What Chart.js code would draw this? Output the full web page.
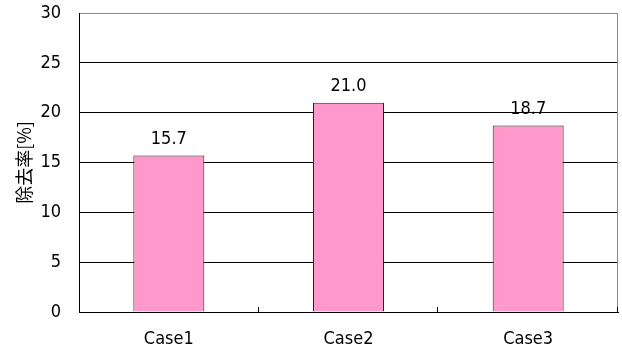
<!DOCTYPE html>
<html>
<head>
<meta charset="utf-8">
<script src="https://cdn.jsdelivr.net/npm/chart.js@4/dist/chart.umd.min.js"></script>
<style>
html,body{margin:0;padding:0;background:#fff;}
canvas{display:block;}
</style>
</head>
<body>
<canvas id="c" width="622" height="353"></canvas>
<script>
const categories = ["Case1", "Case2", "Case3"];
const removalRates = [15.7, 21.0, 18.7];
const valueLabels = ["15.7", "21.0", "18.7"];
const yAxisTitle = "除去率[%]";
const yMin = 0, yMax = 30, yStep = 5;

const FONT = "'DejaVu Sans Condensed', 'Liberation Sans Narrow', 'DejaVu Sans', sans-serif";

const decorPlugin = {
  id: 'decor',
  afterDatasetsDraw(chart) {
    const ctx = chart.ctx;
    const area = chart.chartArea;
    const xs = chart.scales.x;
    ctx.save();
    // right border (gray)
    ctx.strokeStyle = '#8c8c8c';
    ctx.lineWidth = 1;
    ctx.beginPath();
    ctx.moveTo(Math.round(area.right) - 0.5, area.top);
    ctx.lineTo(Math.round(area.right) - 0.5, area.bottom);
    ctx.stroke();
    // category boundary tick marks (inside)
    ctx.strokeStyle = '#000';
    const n = categories.length;
    for (let i = 0; i < n; i++) {
      let px;
      if (i < n - 1) px = (xs.getPixelForValue(i) + xs.getPixelForValue(i + 1)) / 2;
      else px = area.right;
      px = Math.round(px) - 0.5;
      ctx.beginPath();
      ctx.moveTo(px, area.bottom);
      ctx.lineTo(px, area.bottom - 5);
      ctx.stroke();
    }
    // value labels
    const meta = chart.getDatasetMeta(0);
    ctx.fillStyle = '#000';
    ctx.font = "18px " + FONT;
    ctx.textAlign = 'center';
    ctx.textBaseline = 'middle';
    meta.data.forEach((bar, i) => {
      ctx.fillText(valueLabels[i], bar.x, bar.y - 16);
    });
    ctx.restore();
  }
};

new Chart(document.getElementById('c'), {
  type: 'bar',
  data: {
    labels: categories,
    datasets: [{
      data: removalRates,
      backgroundColor: '#FF99CC',
      borderColor: '#222222',
      borderWidth: 1,
      borderSkipped: 'bottom',
      categoryPercentage: 1,
      barPercentage: 0.395
    }]
  },
  options: {
    responsive: false,
    animation: false,
    devicePixelRatio: 1,
    layout: { padding: { left: 0, right: 4, top: 13, bottom: 0 } },
    plugins: {
      legend: { display: false },
      tooltip: { enabled: false }
    },
    scales: {
      x: {
        grid: { display: false, drawTicks: false },
        border: { display: true, color: '#000', width: 1 },
        ticks: {
          color: '#000',
          font: { family: FONT, size: 18 },
          padding: 17,
          maxRotation: 0
        },
        afterFit(scale) {
          scale.height = 41;
          scale.paddingLeft = 0; scale.paddingRight = 0;
        }
      },
      y: {
        min: yMin,
        max: yMax,
        ticks: {
          stepSize: yStep,
          color: '#000',
          font: { family: FONT, size: 18 },
          padding: 18
        },
        grid: {
          drawTicks: false,
          color: (c) => (c.tick && c.tick.value === yMax) ? '#8c8c8c' : '#000',
          lineWidth: 1
        },
        border: { display: true, color: '#000', width: 1 },
        title: {
          display: true,
          text: yAxisTitle,
          color: '#000',
          font: { family: "'Noto Sans CJK JP', sans-serif", size: 18 },
          padding: { top: 13, bottom: 0 }
        },
        afterFit(scale) {
          scale.width = 79;
          scale.paddingTop = 0; scale.paddingBottom = 0;
        }
      }
    }
  },
  plugins: [decorPlugin]
});
</script>
</body>
</html>
